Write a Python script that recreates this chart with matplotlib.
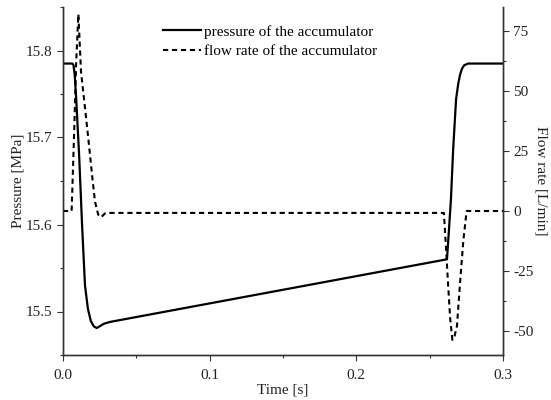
import matplotlib
matplotlib.use("Agg")
import matplotlib.pyplot as plt
from matplotlib.ticker import MultipleLocator

plt.rcParams['font.family'] = ['Liberation Serif', 'DejaVu Serif']
plt.rcParams['axes.unicode_minus'] = False

# pressure of the accumulator [MPa]
t_p = [0.0, 0.0064, 0.0072, 0.0080, 0.0090, 0.0110, 0.0130, 0.0150, 0.0170,
       0.0190, 0.0210, 0.0230, 0.0250, 0.0280, 0.0320, 0.2618, 0.2630, 0.2645,
       0.2660, 0.2680, 0.2695, 0.2707, 0.2720, 0.2735, 0.2762, 0.3]
p = [15.785, 15.785, 15.783, 15.772, 15.745, 15.680, 15.600, 15.530, 15.503,
     15.489, 15.483, 15.481, 15.483, 15.486, 15.488, 15.560, 15.590, 15.629,
     15.686, 15.744, 15.762, 15.772, 15.779, 15.783, 15.785, 15.785]

# flow rate of the accumulator [L/min]
t_q = [0.0, 0.0059, 0.0075, 0.0090, 0.0105, 0.0123, 0.0150, 0.0173, 0.0200,
       0.0218, 0.0240, 0.0260, 0.0286, 0.0320, 0.2597, 0.2610, 0.2625, 0.2640,
       0.2655, 0.2670, 0.2686, 0.2707, 0.2730, 0.2752, 0.3]
q = [0.0, 0.0, 30.5, 62.0, 82.0, 58.0, 43.0, 30.0, 14.0,
     4.0, -1.5, -2.6, -1.0, -0.8, -0.8, -14.0, -30.0, -45.0,
     -53.7, -52.0, -48.0, -30.0, -12.0, 0.0, 0.0]

fig = plt.figure(figsize=(5.51, 4.0), dpi=100)
ax = fig.add_axes([0.1143, 0.1125, 0.7986, 0.87])
ax2 = ax.twinx()

l1, = ax.plot(t_p, p, color="black", lw=1.6, label="pressure of the accumulator")
l2, = ax2.plot(t_q, q, color="black", lw=1.5, ls=(0, (2.5, 1.8)),
               label="flow rate of the accumulator")

ax.set_xlim(0, 0.3)
ax.set_ylim(15.45, 15.85)
ax2.set_ylim(-60, 85)

ax.xaxis.set_major_locator(MultipleLocator(0.1))
ax.xaxis.set_minor_locator(MultipleLocator(0.05))
ax.yaxis.set_major_locator(MultipleLocator(0.1))
ax.yaxis.set_minor_locator(MultipleLocator(0.05))
ax2.yaxis.set_major_locator(MultipleLocator(25))
ax2.yaxis.set_minor_locator(MultipleLocator(12.5))
ax.xaxis.set_major_formatter(plt.FuncFormatter(lambda v, _: f"{v:.1f}"))
ax.yaxis.set_major_formatter(plt.FuncFormatter(lambda v, _: f"{v:.1f}"))

for a in (ax, ax2):
    a.spines["top"].set_visible(False)
    for s in a.spines.values():
        s.set_color("#333333")
        s.set_linewidth(1.0)
    a.tick_params(which="major", length=4, width=0.8, color="#333333",
                  labelsize=11, labelcolor="#222222")
    a.tick_params(which="minor", length=2.5, width=0.8, color="#333333")
ax.tick_params(axis="x", which="major", pad=6)

ax.set_xlabel("Time [s]", fontsize=11, color="#222222", labelpad=1)
ax.set_ylabel("Pressure [MPa]", fontsize=11, color="#222222", labelpad=1)
ax2.set_ylabel("Flow rate [L/min]", fontsize=11, color="#222222",
               rotation=270, labelpad=10)

ax.legend(handles=[l1, l2], loc="upper left", bbox_to_anchor=(0.296, 0.938),
          bbox_transform=fig.transFigure, frameon=False, borderpad=0,
          borderaxespad=0, handlelength=2.5, handletextpad=0.2,
          labelspacing=0.4, fontsize=11)

fig.savefig("out.png", dpi=100)
